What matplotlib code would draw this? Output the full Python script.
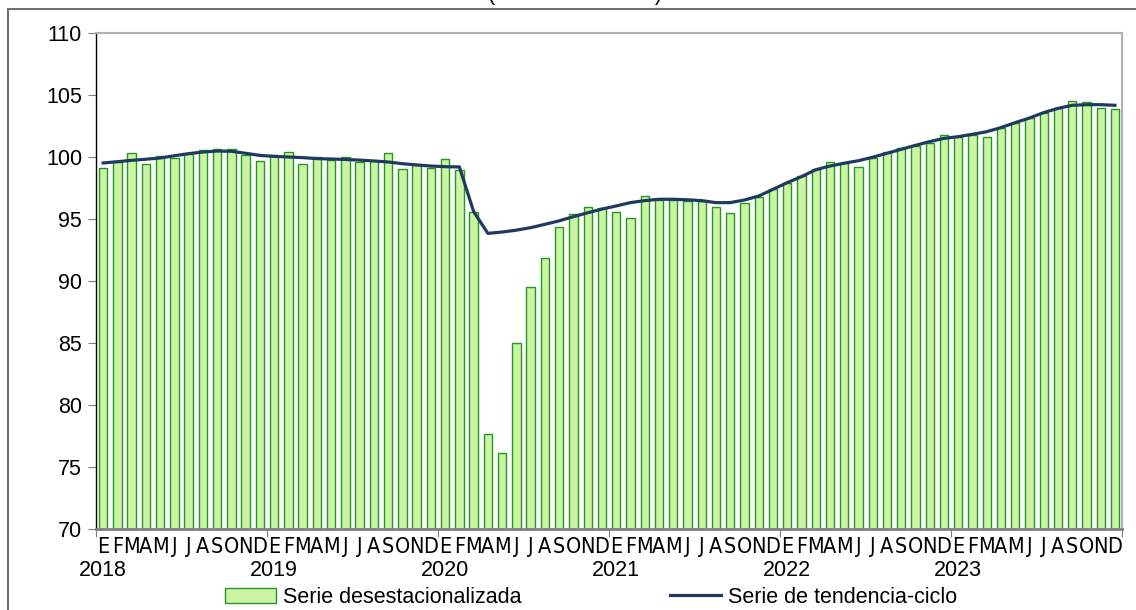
import matplotlib
matplotlib.use('Agg')
import matplotlib.pyplot as plt
from matplotlib import font_manager
from matplotlib.patches import Rectangle

plt.rcParams['font.family'] = ['Liberation Sans', 'DejaVu Sans']

years = ['2018', '2019', '2020', '2021', '2022', '2023']
months = ['E', 'F', 'M', 'A', 'M', 'J', 'J', 'A', 'S', 'O', 'N', 'D']

# serie desestacionalizada, ene 2018 - dic 2023
desest = [
    99.11, 99.60, 100.32, 99.41, 100.08, 99.89, 100.27, 100.59, 100.67, 100.67, 100.13, 99.65,
    100.13, 100.40, 99.41, 100.00, 99.78, 100.00, 99.57, 99.65, 100.32, 99.06, 99.33, 99.09,
    99.87, 98.99, 95.54, 77.63, 76.10, 85.00, 89.52, 91.85, 94.33, 95.40, 96.00, 95.90,
    95.54, 95.05, 96.85, 96.53, 96.53, 96.48, 96.45, 96.00, 95.46, 96.26, 96.75, 97.39,
    97.93, 98.47, 99.03, 99.62, 99.52, 99.22, 99.95, 100.38, 100.70, 100.89, 101.16, 101.77,
    101.64, 101.77, 101.64, 102.31, 102.77, 103.17, 103.58, 103.92, 104.54, 104.41, 103.95, 103.90,
]

# serie de tendencia-ciclo
tendencia = [
    99.52, 99.62, 99.73, 99.82, 99.92, 100.10, 100.27, 100.40, 100.48, 100.46, 100.30, 100.13,
    100.05, 100.00, 99.95, 99.87, 99.84, 99.80, 99.75, 99.68, 99.60, 99.46, 99.36, 99.27,
    99.22, 99.20, 95.60, 93.84, 93.95, 94.10, 94.30, 94.57, 94.85, 95.19, 95.50, 95.80,
    96.05, 96.32, 96.48, 96.59, 96.59, 96.55, 96.48, 96.32, 96.32, 96.53, 96.85, 97.39,
    97.93, 98.41, 98.97, 99.27, 99.50, 99.70, 99.98, 100.30, 100.62, 100.94, 101.24, 101.50,
    101.64, 101.83, 102.04, 102.37, 102.77, 103.14, 103.58, 103.92, 104.17, 104.22, 104.22, 104.17,
]

x = list(range(len(desest)))

# narrow font for the month letters if there is one
names = {f.name for f in font_manager.fontManager.ttflist}
if 'Liberation Sans Narrow' in names:
    narrow = dict(family=['Liberation Sans Narrow', 'DejaVu Sans'])
else:
    narrow = dict(family=['DejaVu Sans'], stretch='condensed')

fig = plt.figure(figsize=(11.36, 6.10), dpi=100)
ax = fig.add_axes([0.0845, 0.1328, 0.9032, 0.8131])

bars = ax.bar(x, [v - 70 for v in desest], bottom=70, width=0.58,
              color='#ccf3a6', edgecolor='#1f9a1f', linewidth=1.0,
              label='Serie desestacionalizada')
line, = ax.plot(x, tendencia, color='#1f3a60', linewidth=2.3,
                label='Serie de tendencia-ciclo')

ax.set_xlim(-0.5, len(x) - 0.5)
ax.set_ylim(70, 110)
ax.set_yticks(range(70, 111, 5))
ax.tick_params(axis='y', labelsize=15.5, length=6, color='#808080', pad=4)

# year boundaries as major ticks, month letters as minor tick labels
ax.set_xticks([i * 12 - 0.5 for i in range(len(years) + 1)])
ax.set_xticklabels([])
ax.tick_params(axis='x', which='major', length=6, color='#808080')
ax.set_xticks(x, minor=True)
ax.set_xticklabels(months * len(years), minor=True, fontsize=15.5, **narrow)
ax.tick_params(axis='x', which='minor', length=0, pad=6)

# year under its January
for k, y in enumerate(years):
    ax.annotate(y, xy=(k * 12, 0), xycoords=('data', 'axes fraction'),
                xytext=(0, -31), textcoords='offset pixels',
                ha='center', va='top', fontsize=15.5)

ax.spines['left'].set_color('black')
ax.spines['left'].set_linewidth(1.0)
ax.spines['bottom'].set_color('#808080')
ax.spines['bottom'].set_linewidth(2.0)
ax.spines['top'].set_color('#b0b0b0')
ax.spines['top'].set_linewidth(1.5)
ax.spines['right'].set_color('#b0b0b0')
ax.spines['right'].set_linewidth(1.5)

fig.legend(handles=[bars, line], loc='center', bbox_to_anchor=(0.52, 0.021),
           ncol=2, frameon=False, fontsize=15.5, handlelength=2.4,
           handletextpad=0.3, columnspacing=6.9)

# outer frame of the original chart, cut at the picture edges
fig.add_artist(Rectangle((8 / 1136, -0.05), 1.1, 1.05 - 9 / 610,
                         transform=fig.transFigure, fill=False,
                         edgecolor='#707070', linewidth=1.5))
# title, almost all of it above the picture
fig.text(575 / 1136, 1.0, '(Índice 2018=100)', ha='center',
         va='baseline', fontsize=15.5)

fig.savefig('out.png', dpi=100)
